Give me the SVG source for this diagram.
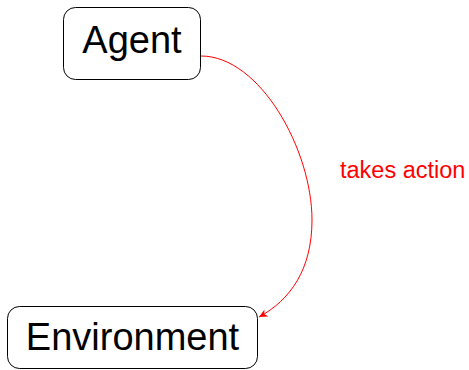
<svg xmlns="http://www.w3.org/2000/svg" width="469" height="370" viewBox="0 0 469 370">
  <style>
    .box { fill: #ffffff; stroke: #000000; stroke-width: 1; }
    .title { font-family: "Liberation Sans", Arial, sans-serif; font-size: 38px; fill: #000000; text-anchor: middle; }
    .edge { fill: none; stroke: #ff0000; stroke-width: 1; }
    .edge-label { font-family: "Liberation Sans", Arial, sans-serif; font-size: 23.5px; fill: #ff0000; }
  </style>
  <defs>
    <marker id="arrow" markerWidth="11" markerHeight="11" refX="9.5" refY="5.5" orient="auto" markerUnits="userSpaceOnUse">
      <path d="M1,1.5 L9.5,5.5 L1,9.5 L3.5,5.5 Z" fill="#ff0000"/>
    </marker>
  </defs>
  <rect width="469" height="370" fill="#ffffff"/>
  <g id="connectors">
    <path class="edge" d="M201,56 C260,56 312,150 312,220 C312,270 290,300 259,317" marker-end="url(#arrow)"/>
    <text class="edge-label" x="340" y="178">takes action</text>
  </g>
  <g id="agent">
    <rect class="box" x="63.5" y="7.5" width="137" height="72" rx="12"/>
    <text class="title" x="132" y="53">Agent</text>
  </g>
  <g id="environment">
    <rect class="box" x="7.5" y="306.5" width="250" height="62" rx="12"/>
    <text class="title" x="132.5" y="350">Environment</text>
  </g>
</svg>
